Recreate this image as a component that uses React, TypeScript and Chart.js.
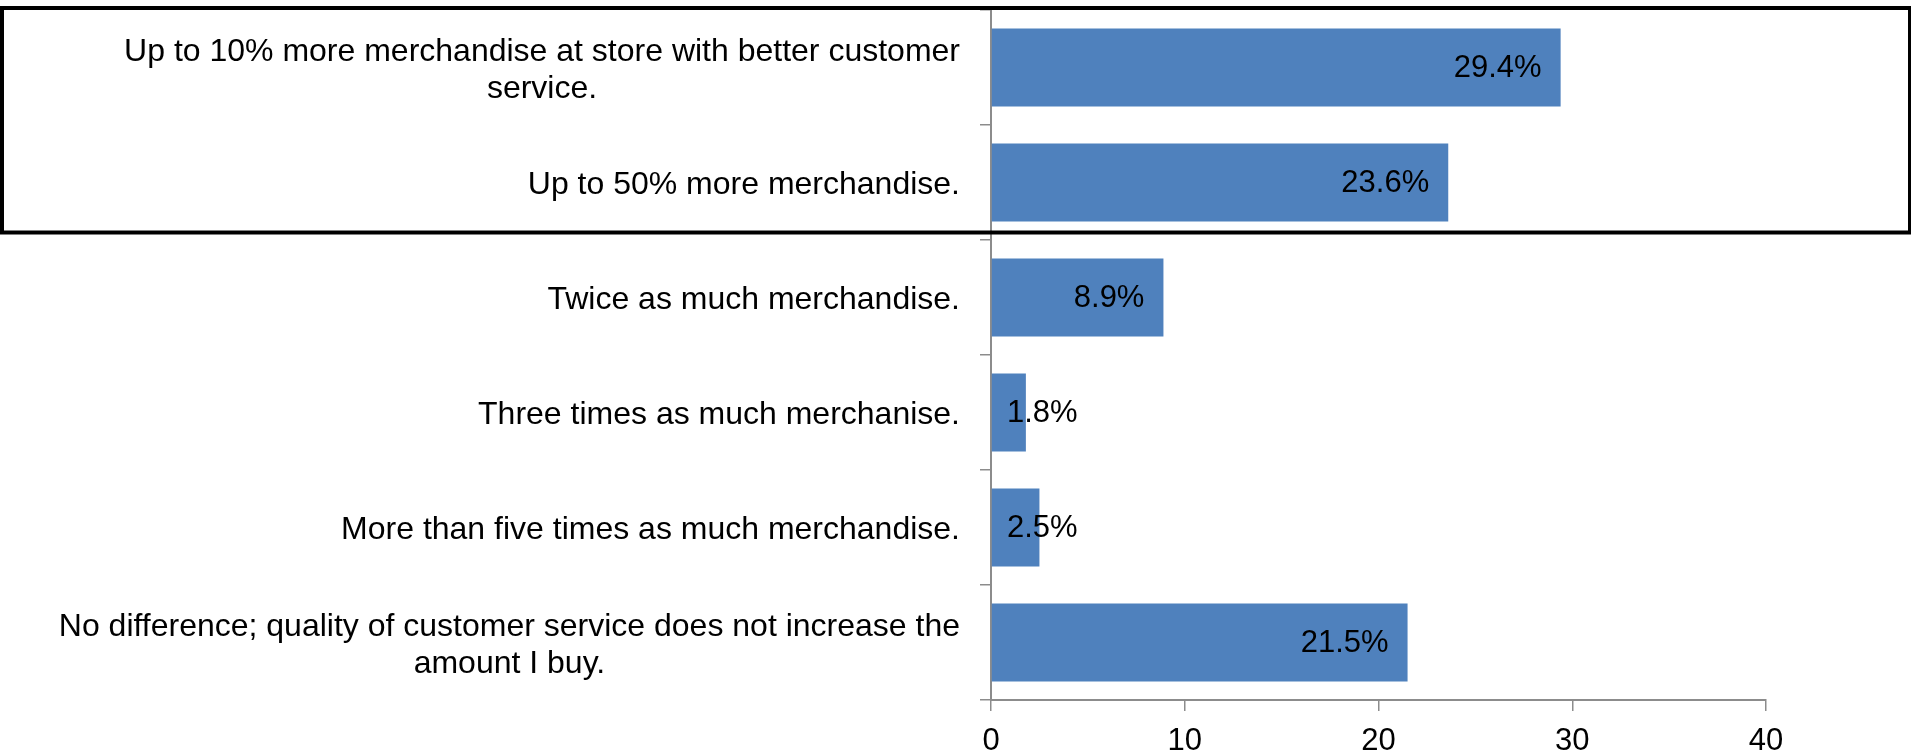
import React, { useEffect, useRef } from 'react';
import { Chart, registerables } from 'chart.js';

Chart.register(...registerables);

const categories: string[][] = [
  ['Up to 10% more merchandise at store with better customer', 'service.'],
  ['Up to 50% more merchandise.'],
  ['Twice as much merchandise.'],
  ['Three times as much merchanise.'],
  ['More than five times as much merchandise.'],
  ['No difference; quality of customer service does not increase the', 'amount I buy.'],
];
const values: number[] = [29.4, 23.6, 8.9, 1.8, 2.5, 21.5];
const xMin = 0;
const xMax = 40;
const xStep = 10;
const highlighted: number[] = [0, 1];

const FONT = '"Liberation Sans", Arial, Helvetica, sans-serif';
const BAR_COLOR = '#4F81BD';
const AXIS_COLOR = '#8C8C8C';

const customDraw = {
  id: 'customDraw',
  afterDatasetsDraw(chart: any) {
    const ctx = chart.ctx;
    const meta = chart.getDatasetMeta(0);
    const xs = chart.scales.x;
    const zeroX = xs.getPixelForValue(0);
    ctx.save();
    ctx.font = `31px ${FONT}`;
    ctx.fillStyle = '#000';
    ctx.textBaseline = 'middle';
    ctx.textAlign = 'left';
    meta.data.forEach((bar: any, i: number) => {
      const txt = values[i].toFixed(1) + '%';
      const w = ctx.measureText(txt).width;
      let left = bar.x - 19 - w;
      if (left < zeroX + 16) left = zeroX + 16;
      ctx.fillText(txt, left, bar.y + 1);
    });
    ctx.restore();
  },
  afterDraw(chart: any) {
    const ctx = chart.ctx;
    const ys = chart.scales.y;
    const area = chart.chartArea;
    ctx.save();
    // category labels
    ctx.font = `32px ${FONT}`;
    ctx.fillStyle = '#000';
    ctx.textBaseline = 'middle';
    ctx.textAlign = 'center';
    const right = area.left - 31;
    const lh = 37;
    categories.forEach((lines, i) => {
      const cy = ys.getPixelForTick(i);
      const bw = Math.max(...lines.map((l) => ctx.measureText(l).width));
      const cx = right - bw / 2;
      lines.forEach((l, j) => {
        ctx.fillText(l, cx, cy + 3 + (j - (lines.length - 1) / 2) * lh);
      });
    });
    // highlight box around first categories
    const first = highlighted[0];
    const last = highlighted[highlighted.length - 1];
    const p0 = ys.getPixelForTick(first);
    const p1 = ys.getPixelForTick(last);
    const pitch = ys.getPixelForTick(1) - ys.getPixelForTick(0);
    const top = p0 - pitch / 2 - 2;
    const bottom = p1 + pitch / 2 - 7.5;
    ctx.strokeStyle = '#000';
    ctx.lineWidth = 4;
    ctx.strokeRect(2, top, chart.width - 3, bottom - top);
    ctx.restore();
  },
};

export default function App() {
  const ref = useRef<HTMLCanvasElement | null>(null);
  useEffect(() => {
    if (!ref.current) return;
    const chart = new Chart(ref.current, {
      type: 'bar',
      data: {
        labels: categories.map((c) => c.join(' ')),
        datasets: [
          {
            data: values,
            backgroundColor: BAR_COLOR,
            borderWidth: 0,
            barPercentage: 0.68,
            categoryPercentage: 1,
          },
        ],
      },
      options: {
        indexAxis: 'y',
        animation: false,
        responsive: false,
        layout: { padding: { top: 10, right: 145, left: 0, bottom: 0 } },
        plugins: {
          legend: { display: false },
          tooltip: { enabled: false },
        },
        scales: {
          y: {
            type: 'category',
            ticks: { display: false },
            grid: {
              offset: true,
              drawOnChartArea: false,
              drawTicks: true,
              tickLength: 11,
              color: AXIS_COLOR,
              lineWidth: 1.5,
            },
            border: { color: AXIS_COLOR, width: 2 },
            afterFit: (s: any) => {
              s.width = 991;
            },
          },
          x: {
            type: 'linear',
            min: xMin,
            max: xMax,
            ticks: {
              stepSize: xStep,
              color: '#000',
              padding: 12,
              font: { size: 31, family: FONT },
            },
            grid: {
              drawOnChartArea: false,
              drawTicks: true,
              tickLength: 11,
              color: AXIS_COLOR,
              lineWidth: 1.5,
            },
            border: { color: AXIS_COLOR, width: 2 },
            afterFit: (s: any) => {
              s.height = 52;
            },
          },
        },
      } as any,
      plugins: [customDraw],
    });
    return () => chart.destroy();
  }, []);
  return (
    <div style={{ position: 'absolute', left: 0, top: 0, width: 1911, height: 752, background: '#fff' }}>
      <canvas ref={ref} width={1911} height={752} />
    </div>
  );
}
